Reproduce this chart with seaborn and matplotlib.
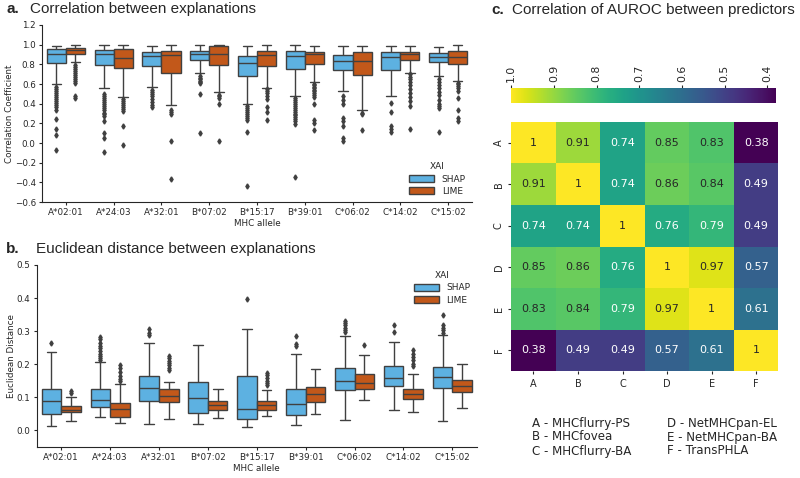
import numpy as np
import pandas as pd
import matplotlib
matplotlib.use("Agg")
import matplotlib.pyplot as plt
import seaborn as sns

# ---------------- data ----------------
alleles = ["A*02:01", "A*24:03", "A*32:01", "B*07:02", "B*15:17",
           "B*39:01", "C*06:02", "C*14:02", "C*15:02"]
xai_names = ["SHAP", "LIME"]

# Panel a: correlation between explanations (box summary)
corr_shap_lo = [0.597, 0.555, 0.565, 0.715, 0.397, 0.475, 0.53, 0.475, 0.68]
corr_shap_q1 = [0.81, 0.79, 0.78, 0.84, 0.685, 0.753, 0.742, 0.742, 0.82]
corr_shap_med = [0.91, 0.90, 0.88, 0.905, 0.81, 0.88, 0.835, 0.878, 0.875]
corr_shap_q3 = [0.96, 0.95, 0.925, 0.94, 0.885, 0.94, 0.895, 0.922, 0.915]
corr_shap_hi = [0.99, 0.995, 0.985, 0.995, 0.985, 0.995, 0.99, 0.99, 0.98]
corr_shap_out = [
    [0.57, 0.55, 0.53, 0.51, 0.49, 0.47, 0.45, 0.43, 0.41, 0.39, 0.37, 0.34, 0.24, 0.14, 0.08, -0.07],
    [0.50, 0.48, 0.46, 0.44, 0.42, 0.40, 0.38, 0.36, 0.34, 0.31, 0.29, 0.27, 0.22, 0.10, 0.05, -0.09],
    [0.54, 0.52, 0.50, 0.48, 0.45, 0.42, 0.39, 0.37],
    [0.68, 0.665, 0.65, 0.635, 0.62, 0.607, 0.50, 0.10],
    [0.375, 0.355, 0.335, 0.315, 0.295, 0.275, 0.255, 0.235, 0.11, -0.44],
    [0.46, 0.44, 0.42, 0.40, 0.38, 0.36, 0.34, 0.32, 0.30, 0.28, 0.26, 0.24, 0.22, 0.19, -0.35],
    [0.48, 0.44, 0.40, 0.25, 0.22, 0.17, 0.05, 0.02],
    [0.41, 0.32, 0.17, 0.14, 0.115],
    [0.65, 0.625, 0.59, 0.556, 0.522, 0.49, 0.44, 0.40, 0.376, 0.353, 0.11],
]
corr_lime_lo = [0.82, 0.47, 0.39, 0.52, 0.56, 0.62, 0.34, 0.715, 0.63]
corr_lime_q1 = [0.90, 0.76, 0.715, 0.797, 0.785, 0.805, 0.688, 0.84, 0.807]
corr_lime_med = [0.945, 0.86, 0.89, 0.91, 0.895, 0.90, 0.837, 0.90, 0.878]
corr_lime_q3 = [0.97, 0.955, 0.933, 0.983, 0.94, 0.93, 0.922, 0.93, 0.932]
corr_lime_hi = [0.995, 0.995, 0.995, 0.998, 0.995, 0.99, 0.99, 0.99, 0.993]
corr_lime_out = [
    [0.79, 0.77, 0.75, 0.73, 0.71, 0.69, 0.67, 0.65, 0.63, 0.61, 0.48, 0.46],
    [0.45, 0.43, 0.41, 0.39, 0.37, 0.35, 0.33, 0.17, -0.02],
    [0.34, 0.32, 0.29, 0.02, -0.37],
    [0.49, 0.475, 0.46, 0.40, 0.025],
    [0.545, 0.53, 0.505, 0.48, 0.45, 0.37, 0.315, 0.234],
    [0.60, 0.585, 0.57, 0.555, 0.54, 0.525, 0.51, 0.49, 0.47, 0.40, 0.234, 0.20, 0.132],
    [0.31, 0.29, 0.13],
    [0.698, 0.675, 0.647, 0.624, 0.59, 0.546, 0.505, 0.465, 0.424, 0.376, 0.139],
    [0.613, 0.595, 0.575, 0.555, 0.532, 0.46, 0.335, 0.25, 0.227],
]

# Panel b: Euclidean distance between explanations
dist_shap_lo = [0.012, 0.042, 0.02, 0.018, 0.01, 0.016, 0.031, 0.062, 0.028]
dist_shap_q1 = [0.05, 0.071, 0.088, 0.054, 0.035, 0.048, 0.122, 0.134, 0.127]
dist_shap_med = [0.089, 0.092, 0.128, 0.098, 0.066, 0.079, 0.15, 0.159, 0.162]
dist_shap_q3 = [0.126, 0.126, 0.163, 0.146, 0.164, 0.124, 0.19, 0.196, 0.193]
dist_shap_hi = [0.238, 0.206, 0.265, 0.258, 0.305, 0.231, 0.284, 0.268, 0.287]
dist_shap_out = [
    [0.265],
    [0.283, 0.275, 0.265, 0.255, 0.248, 0.24, 0.232, 0.225, 0.218, 0.212],
    [0.305, 0.295, 0.287],
    [],
    [0.396],
    [0.284, 0.262, 0.255],
    [0.332, 0.326, 0.32, 0.31, 0.302, 0.298],
    [0.318, 0.298],
    [0.348, 0.318, 0.31, 0.303, 0.295],
]
dist_lime_lo = [0.028, 0.023, 0.035, 0.037, 0.044, 0.049, 0.092, 0.056, 0.067]
dist_lime_q1 = [0.056, 0.042, 0.087, 0.062, 0.063, 0.085, 0.125, 0.095, 0.117]
dist_lime_med = [0.063, 0.066, 0.105, 0.076, 0.076, 0.11, 0.144, 0.11, 0.134]
dist_lime_q3 = [0.075, 0.084, 0.125, 0.09, 0.088, 0.132, 0.171, 0.125, 0.152]
dist_lime_hi = [0.10, 0.141, 0.146, 0.126, 0.123, 0.186, 0.229, 0.169, 0.201]
dist_lime_out = [
    [0.118, 0.113],
    [0.198, 0.188, 0.178, 0.165, 0.155, 0.148],
    [0.225, 0.218, 0.21, 0.203, 0.197, 0.19, 0.184],
    [],
    [0.174, 0.166, 0.158, 0.15, 0.143, 0.136],
    [],
    [0.258],
    [0.242, 0.232, 0.222, 0.212, 0.2, 0.194],
    [],
]

# Panel c: correlation of AUROC between predictors
predictors = ["A", "B", "C", "D", "E", "F"]
auroc_corr = [
    [1.00, 0.91, 0.74, 0.85, 0.83, 0.38],
    [0.91, 1.00, 0.74, 0.86, 0.84, 0.49],
    [0.74, 0.74, 1.00, 0.76, 0.79, 0.49],
    [0.85, 0.86, 0.76, 1.00, 0.97, 0.57],
    [0.83, 0.84, 0.79, 0.97, 1.00, 0.61],
    [0.38, 0.49, 0.49, 0.57, 0.61, 1.00],
]
predictor_names = ["A - MHCflurry-PS", "B - MHCfovea", "C - MHCflurry-BA",
                   "D - NetMHCpan-EL", "E - NetMHCpan-BA", "F - TransPHLA"]

# ---------------- build long tables for seaborn ----------------
def long_table(series):
    rows = []
    n_rep = 50
    for name, (lo, q1, med, q3, hi, outs) in series.items():
        for i, al in enumerate(alleles):
            vals = list(outs[i]) + [lo[i]] + [q1[i]] * n_rep + [med[i]] * n_rep \
                + [q3[i]] * n_rep + [hi[i]]
            rows += [(al, name, v) for v in vals]
    return pd.DataFrame(rows, columns=["allele", "XAI", "value"])

df_a = long_table({
    "SHAP": (corr_shap_lo, corr_shap_q1, corr_shap_med, corr_shap_q3, corr_shap_hi, corr_shap_out),
    "LIME": (corr_lime_lo, corr_lime_q1, corr_lime_med, corr_lime_q3, corr_lime_hi, corr_lime_out),
})
df_b = long_table({
    "SHAP": (dist_shap_lo, dist_shap_q1, dist_shap_med, dist_shap_q3, dist_shap_hi, dist_shap_out),
    "LIME": (dist_lime_lo, dist_lime_q1, dist_lime_med, dist_lime_q3, dist_lime_hi, dist_lime_out),
})
mat = pd.DataFrame(auroc_corr, index=predictors, columns=predictors)

# ---------------- style ----------------
sns.set_theme(style="ticks")
plt.rcParams["font.family"] = ["DejaVu Sans"]
tick_fs = 6.3
title_fs = 11
title_font = ["Liberation Sans", "DejaVu Sans"]
palette = {"SHAP": "#5DB1E1", "LIME": "#C2581A"}
line_c = "#404040"

fig = plt.figure(figsize=(8, 4.78), dpi=100)
ax_a = fig.add_axes([0.0525, 0.5774, 0.5375, 0.3703])
ax_b = fig.add_axes([0.046, 0.0649, 0.55, 0.3808])
ax_c = fig.add_axes([0.639, 0.2238, 0.334, 0.521])
cax = fig.add_axes([0.639, 0.7845, 0.331, 0.0314])

box_kw = dict(x="allele", y="value", hue="XAI", hue_order=xai_names, order=alleles,
              palette=palette, saturation=1, linewidth=1, linecolor=line_c,
              fliersize=2.6,
              flierprops=dict(marker="d", markerfacecolor=line_c, markeredgecolor=line_c))

sns.boxplot(data=df_a, ax=ax_a, **box_kw)
sns.boxplot(data=df_b, ax=ax_b, **box_kw)

for ax, ylab, lim, ticks, loc in [
        (ax_a, "Correlation Coefficient", (-0.6, 1.2), np.round(np.arange(-0.6, 1.21, 0.2), 1), "lower right"),
        (ax_b, "Euclidean Distance", (-0.05, 0.5), np.round(np.arange(0.0, 0.51, 0.1), 1), "upper right")]:
    ax.set_ylim(*lim)
    ax.set_yticks(ticks)
    ax.set_ylabel(ylab, fontsize=tick_fs, labelpad=0.5)
    ax.set_xlabel("MHC allele", fontsize=tick_fs, labelpad=1)
    ax.tick_params(axis="both", labelsize=tick_fs, length=2.5, width=0.8, pad=2)
    sns.despine(ax=ax)
    for s in ["left", "bottom"]:
        ax.spines[s].set_linewidth(0.8)
    sns.move_legend(ax, loc, frameon=False, title="XAI", fontsize=tick_fs + 0.2,
                    title_fontsize=tick_fs + 0.2, handlelength=2.8, handleheight=0.9,
                    labelspacing=0.35, borderaxespad=0.3)

# ---------------- heatmap ----------------
sns.heatmap(mat, ax=ax_c, cmap="viridis", vmin=0.38, vmax=1.0, annot=True,
            annot_kws={"fontsize": 8}, cbar_ax=cax,
            cbar_kws={"orientation": "horizontal"})
ax_c.set_yticklabels(predictors, rotation=90, va="center", fontsize=7)
ax_c.set_xticklabels(predictors, rotation=0, fontsize=7)
ax_c.tick_params(axis="both", length=2.5, width=0.8, pad=3)
cax.invert_xaxis()
cax.xaxis.set_ticks_position("top")
cb_ticks = [1.0, 0.9, 0.8, 0.7, 0.6, 0.5, 0.4]
cax.set_xticks(cb_ticks)
cax.set_xticklabels([f"{t:.1f}" for t in cb_ticks], rotation=90, fontsize=7.8)
cax.tick_params(axis="x", length=2.5, width=0.8, pad=2)

# ---------------- titles and legend text ----------------
fig.text(0.008, 1 - 9 / 478, "a.", fontsize=title_fs, weight="bold", family=title_font, va="center")
fig.text(0.037, 1 - 9 / 478, "Correlation between explanations", fontsize=title_fs,
         family=title_font, va="center")
fig.text(0.008, 1 - 249 / 478, "b.", fontsize=title_fs, weight="bold", family=title_font, va="center")
fig.text(0.045, 1 - 249 / 478, "Euclidean distance between explanations", fontsize=title_fs,
         family=title_font, va="center")
fig.text(0.614, 1 - 10 / 478, "c.", fontsize=title_fs, weight="bold", family=title_font, va="center")
fig.text(0.640, 1 - 10 / 478, "Correlation of AUROC between predictors", fontsize=title_fs,
         family=title_font, va="center")

col_x = [532 / 800, 667 / 800]
row_y = [423, 437, 451]
for k, name in enumerate(predictor_names):
    fig.text(col_x[k // 3], 1 - row_y[k % 3] / 478, name, fontsize=8.6, va="center")

fig.savefig("out.png", dpi=100)
